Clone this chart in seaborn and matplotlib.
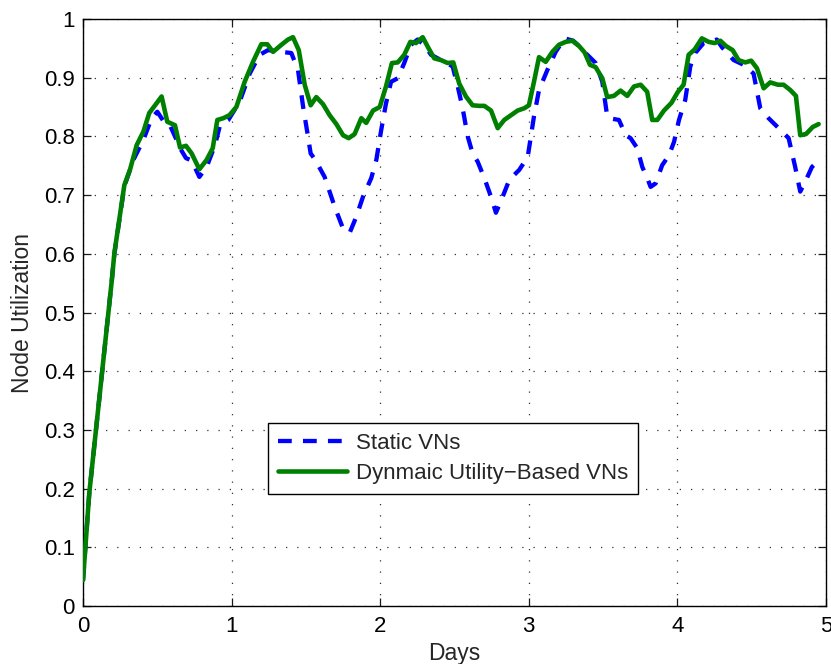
import matplotlib
matplotlib.use("Agg")
import matplotlib.pyplot as plt
import seaborn as sns
import pandas as pd

# Node utilization over five days, static vs. utility-based virtual networks
static_days = [0.0, 0.042, 0.193, 0.211, 0.278, 0.339, 0.406, 0.462, 0.500, 0.552, 0.583, 0.630,
               0.653, 0.693, 0.731, 0.783, 0.832, 0.888, 0.922, 0.978, 1.054, 1.122,
               1.189, 1.245, 1.335, 1.402, 1.447, 1.481, 1.514, 1.532, 1.563, 1.626,
               1.694, 1.750, 1.795, 1.839, 1.884, 1.940, 1.974, 2.007, 2.039, 2.073,
               2.118, 2.162, 2.207, 2.252, 2.297, 2.342, 2.387, 2.443, 2.488, 2.522,
               2.555, 2.589, 2.622, 2.656, 2.701, 2.746, 2.779, 2.824, 2.869, 2.936,
               2.993, 3.035, 3.069, 3.125, 3.181, 3.241, 3.299, 3.338, 3.382, 3.450,
               3.495, 3.528, 3.562, 3.607, 3.652, 3.685, 3.730, 3.764, 3.802, 3.820,
               3.854, 3.898, 3.944, 3.978, 4.011, 4.053, 4.087, 4.120, 4.177, 4.266,
               4.300, 4.379, 4.446, 4.513, 4.558, 4.614, 4.670, 4.749, 4.793, 4.827,
               4.861, 4.906, 4.955]
static_util = [0.044, 0.192, 0.553, 0.600, 0.715, 0.760, 0.794, 0.831, 0.842, 0.822, 0.820, 0.794,
               0.780, 0.763, 0.759, 0.731, 0.748, 0.785, 0.819, 0.828, 0.859, 0.907,
               0.939, 0.947, 0.944, 0.942, 0.913, 0.851, 0.800, 0.771, 0.760, 0.731,
               0.680, 0.643, 0.636, 0.663, 0.697, 0.729, 0.760, 0.811, 0.856, 0.893,
               0.899, 0.925, 0.956, 0.965, 0.956, 0.939, 0.933, 0.926, 0.919, 0.885,
               0.848, 0.800, 0.771, 0.757, 0.729, 0.697, 0.670, 0.697, 0.726, 0.743,
               0.765, 0.834, 0.879, 0.913, 0.944, 0.967, 0.963, 0.954, 0.942, 0.925,
               0.893, 0.834, 0.830, 0.828, 0.802, 0.797, 0.780, 0.748, 0.726, 0.714,
               0.720, 0.751, 0.768, 0.791, 0.828, 0.862, 0.919, 0.942, 0.959, 0.965,
               0.952, 0.930, 0.922, 0.907, 0.848, 0.831, 0.817, 0.797, 0.748, 0.706,
               0.723, 0.748, 0.760]

dynamic_days = [0.0, 0.042, 0.193, 0.211, 0.278, 0.316, 0.361, 0.406, 0.446, 0.485, 0.529,
                0.567, 0.619, 0.653, 0.693, 0.731, 0.783, 0.832, 0.873, 0.904, 0.944,
                0.985, 1.032, 1.088, 1.144, 1.200, 1.240, 1.279, 1.335, 1.380, 1.413,
                1.452, 1.492, 1.532, 1.570, 1.615, 1.660, 1.705, 1.750, 1.788, 1.828,
                1.873, 1.906, 1.952, 1.997, 2.039, 2.079, 2.118, 2.162, 2.203, 2.241,
                2.286, 2.326, 2.364, 2.409, 2.454, 2.492, 2.532, 2.577, 2.622, 2.667,
                2.701, 2.746, 2.791, 2.835, 2.880, 2.925, 2.970, 3.001, 3.035, 3.069,
                3.114, 3.159, 3.203, 3.248, 3.293, 3.338, 3.376, 3.412, 3.450, 3.495,
                3.528, 3.573, 3.618, 3.663, 3.708, 3.753, 3.797, 3.831, 3.865, 3.910,
                3.960, 4.004, 4.042, 4.076, 4.116, 4.165, 4.211, 4.251, 4.289, 4.327,
                4.372, 4.412, 4.457, 4.497, 4.536, 4.581, 4.625, 4.677, 4.715, 4.760,
                4.798, 4.827, 4.866, 4.911, 4.951]
dynamic_util = [0.044, 0.192, 0.553, 0.601, 0.717, 0.743, 0.785, 0.808, 0.840, 0.853, 0.868,
                0.825, 0.819, 0.781, 0.784, 0.771, 0.744, 0.760, 0.780, 0.828, 0.831,
                0.836, 0.850, 0.893, 0.927, 0.957, 0.957, 0.944, 0.956, 0.965, 0.969,
                0.947, 0.888, 0.853, 0.867, 0.855, 0.836, 0.821, 0.802, 0.797, 0.804,
                0.831, 0.823, 0.844, 0.850, 0.885, 0.925, 0.926, 0.939, 0.961, 0.959,
                0.969, 0.950, 0.933, 0.930, 0.925, 0.926, 0.890, 0.868, 0.853, 0.852,
                0.852, 0.844, 0.814, 0.828, 0.836, 0.844, 0.848, 0.853, 0.893, 0.935,
                0.927, 0.944, 0.956, 0.961, 0.963, 0.954, 0.943, 0.922, 0.918, 0.899,
                0.867, 0.869, 0.878, 0.869, 0.885, 0.888, 0.876, 0.828, 0.828, 0.844,
                0.857, 0.876, 0.888, 0.939, 0.948, 0.967, 0.961, 0.959, 0.963, 0.954,
                0.947, 0.930, 0.926, 0.929, 0.916, 0.882, 0.892, 0.888, 0.888, 0.879,
                0.869, 0.802, 0.804, 0.816, 0.821]

series_labels = ["Static VNs", "Dynmaic Utility\u2212Based VNs"]
x_ticks = [0, 1, 2, 3, 4, 5]
y_ticks = [0, 0.1, 0.2, 0.3, 0.4, 0.5, 0.6, 0.7, 0.8, 0.9, 1]
y_tick_labels = ["0", "0.1", "0.2", "0.3", "0.4", "0.5", "0.6", "0.7", "0.8", "0.9", "1"]

static_df = pd.DataFrame({"Days": static_days, "Utilization": static_util})
dynamic_df = pd.DataFrame({"Days": dynamic_days, "Utilization": dynamic_util})

sns.set_style("ticks")
plt.rcParams["font.family"] = ["Liberation Sans", "DejaVu Sans"]

fig = plt.figure(figsize=(8.31, 6.64), dpi=100)
ax = fig.add_axes([0.0999, 0.0873, 0.894, 0.8841])

sns.lineplot(data=static_df, x="Days", y="Utilization", ax=ax, color=(0, 0, 1),
             linewidth=3.1, linestyle=(0, (3.2, 2.6)), label=series_labels[0],
             sort=False, zorder=3)
sns.lineplot(data=dynamic_df, x="Days", y="Utilization", ax=ax, color=(0, 0.5, 0),
             linewidth=3.3, label=series_labels[1], sort=False, zorder=4)

ax.set_xlim(0, 5)
ax.set_ylim(0, 1)
ax.set_xticks(x_ticks)
ax.set_xticklabels([str(t) for t in x_ticks])
ax.set_yticks(y_ticks)
ax.set_yticklabels(y_tick_labels)

ax.grid(True, linestyle=(0, (1, 8)), linewidth=0.9, color="0.2")
for s in ax.spines.values():
    s.set_visible(True)
    s.set_linewidth(1.0)
    s.set_color("black")
ax.tick_params(direction="in", length=6, width=0.9, top=True, right=True,
               labelsize=16, colors="0.1")
ax.tick_params(axis="x", pad=7)
ax.tick_params(axis="y", pad=6)
for lbl in ax.get_xticklabels() + ax.get_yticklabels():
    lbl.set_color("black")

ax.set_xlabel("Days", fontsize=16.5, labelpad=4)
ax.set_ylabel("Node Utilization", fontsize=16.5, labelpad=7)

leg = ax.legend(loc="upper left", bbox_to_anchor=(0.249, 0.312), borderaxespad=0,
                fontsize=16, frameon=True, fancybox=False, edgecolor="black",
                framealpha=1, handlelength=3.1, handletextpad=0.4,
                borderpad=0.45, labelspacing=0.4)
leg.get_frame().set_linewidth(1.0)

fig.savefig("out.png", dpi=100)
